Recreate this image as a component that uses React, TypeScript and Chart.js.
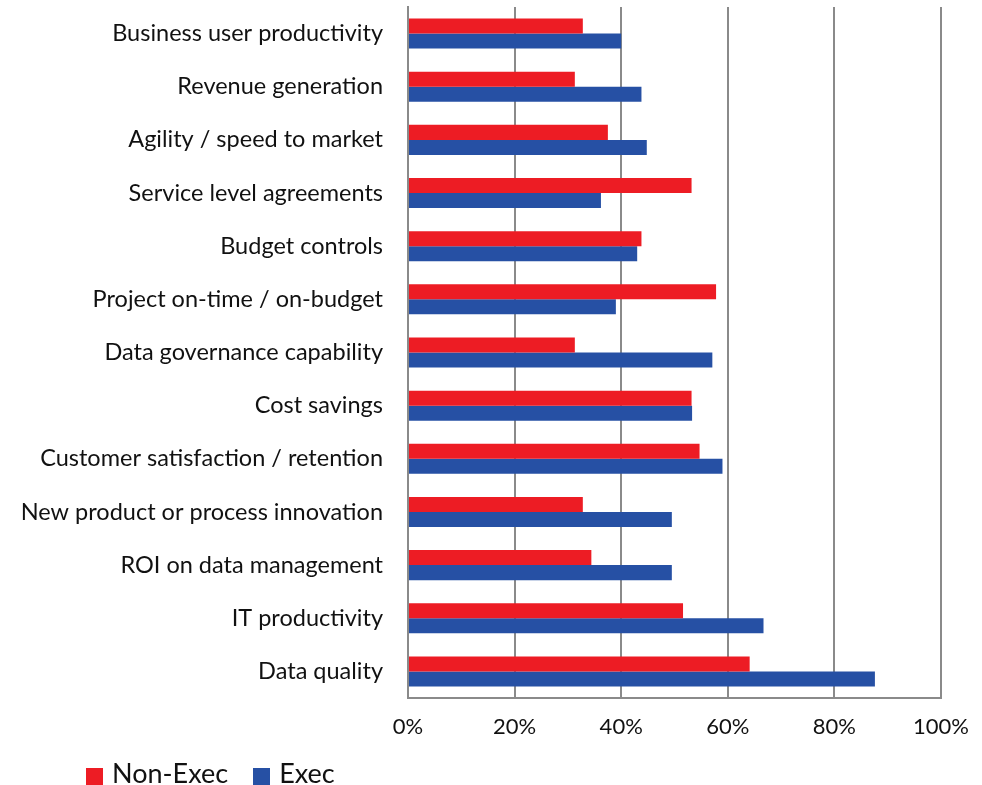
import React, { useEffect, useRef } from "react";
import { Chart, registerables } from "chart.js";

Chart.register(...registerables);

const categories = [
  "Business user productivity",
  "Revenue generation",
  "Agility / speed to market",
  "Service level agreements",
  "Budget controls",
  "Project on-time / on-budget",
  "Data governance capability",
  "Cost savings",
  "Customer satisfaction / retention",
  "New product or process innovation",
  "ROI on data management",
  "IT productivity",
  "Data quality",
];

const nonExec = [32.8, 31.3, 37.5, 53.2, 43.8, 57.8, 31.3, 53.2, 54.7, 32.8, 34.4, 51.6, 64.1];
const exec = [40.0, 43.8, 44.8, 36.2, 43.0, 39.0, 57.1, 53.3, 59.0, 49.5, 49.5, 66.7, 87.6];

const seriesNames = ["Non-Exec", "Exec"];
const seriesColors = ["#ED1C24", "#2650A4"];

const FONT = "Lato, 'Noto Sans', sans-serif";

export default function App() {
  const ref = useRef<HTMLCanvasElement>(null);

  useEffect(() => {
    if (!ref.current) return;
    const chart = new Chart(ref.current, {
      type: "bar",
      data: {
        labels: categories,
        datasets: [
          { label: seriesNames[0], data: nonExec, backgroundColor: seriesColors[0] },
          { label: seriesNames[1], data: exec, backgroundColor: seriesColors[1] },
        ],
      },
      options: {
        indexAxis: "y",
        animation: false,
        responsive: false,
        maintainAspectRatio: false,
        layout: { padding: { left: 0, right: 41, top: 7, bottom: 0 } },
        datasets: { bar: { categoryPercentage: 0.565, barPercentage: 1 } },
        plugins: { legend: { display: false }, tooltip: { enabled: false } },
        scales: {
          x: {
            min: 0,
            max: 100,
            ticks: {
              stepSize: 20,
              callback: (v: any) => v + "%",
              color: "#111",
              font: { family: FONT, size: 22 },
              padding: 16,
            },
            grid: { color: "#8a8a8a", lineWidth: 2, drawTicks: false },
            border: { color: "#8a8a8a", width: 2 },
            afterFit: (s: any) => { s.height = 52; s.paddingLeft = 0; s.paddingRight = 0; },
          },
          y: {
            ticks: {
              color: "#111",
              font: { family: FONT, size: 23.5 },
              padding: 25,
            },
            grid: { display: false, drawTicks: false },
            border: { color: "#8a8a8a", width: 2 },
            afterFit: (s: any) => { s.width = 408; s.paddingTop = 0; s.paddingBottom = 0; },
          },
        },
      },
    });
    return () => chart.destroy();
  }, []);

  return (
    <div style={{ position: "fixed", left: 0, top: 0, width: 982, height: 785, background: "#fff" }}>
      <canvas ref={ref} width={982} height={750} style={{ display: "block" }} />
      <div
        style={{
          position: "absolute",
          left: 86,
          top: 756,
          display: "flex",
          alignItems: "center",
          fontFamily: FONT,
          fontSize: 27,
          color: "#111",
          lineHeight: "34px",
        }}
      >
        {seriesNames.map((n, i) => (
          <div key={n} style={{ display: "flex", alignItems: "center", marginRight: 25 }}>
            <span style={{ display: "inline-block", width: 17, height: 17, background: seriesColors[i], marginRight: 9, marginTop: 6 }} />
            <span>{n}</span>
          </div>
        ))}
      </div>
    </div>
  );
}
